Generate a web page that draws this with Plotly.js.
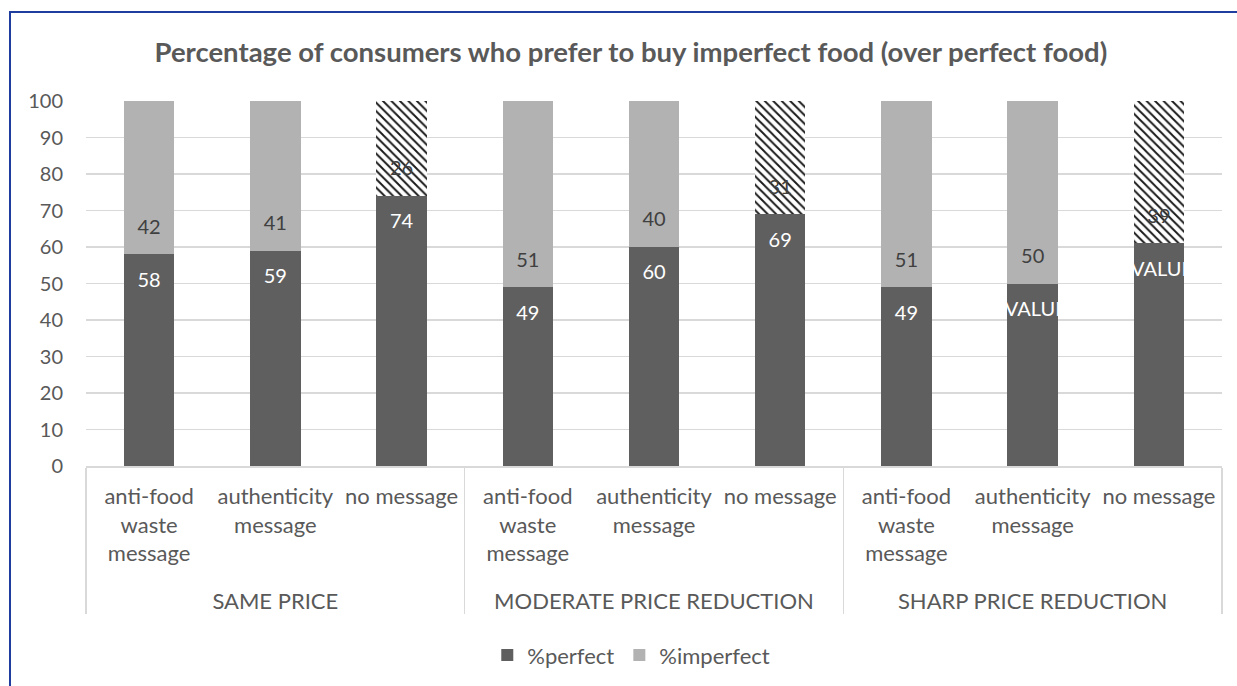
<!DOCTYPE html>
<html>
<head>
<meta charset="utf-8">
<script src="https://cdn.plot.ly/plotly-3.0.1.min.js"></script>
<style>
  html, body { margin: 0; padding: 0; background: #fff; }
  #wrap { position: relative; width: 1237px; height: 686px; overflow: hidden; }
  #chart { position: absolute; left: 0; top: 0; width: 1237px; height: 686px; }
  #frame { position: absolute; left: 9px; top: 11px; width: 1240px; height: 690px;
           border-left: 2px solid #1f3d9e; border-top: 2px solid #1f3d9e; pointer-events: none; }
</style>
</head>
<body>
<div id="wrap">
  <div id="chart"></div>
  <div id="frame"></div>
</div>
<script>
// ---- data ----
const groups = ['SAME PRICE', 'MODERATE PRICE REDUCTION', 'SHARP PRICE REDUCTION'];
const messages = ['anti-food<br>waste<br>message<br>&nbsp;', 'authenticity<br>message', 'no message'];
const perfect = [58, 59, 74, 49, 60, 69, 49, 50, 61];
const imperfect = [42, 41, 26, 51, 40, 31, 51, 50, 39];
const perfectLabels = ['58', '59', '74', '49', '60', '69', '49', '#VALUE!', '#VALUE!'];
const imperfectLabels = ['42', '41', '26', '51', '40', '31', '51', '50', '39'];
const yTicks = [0, 10, 20, 30, 40, 50, 60, 70, 80, 90, 100];

// ---- build ----
const xGroup = [], xSub = [];
groups.forEach(g => messages.forEach(m => { xGroup.push(g); xSub.push(m); }));
const xs = [xGroup, xSub];

const hatch = xSub.map(s => s === 'no message' ? '\\' : '');

const traces = [
  {
    type: 'bar', name: '%perfect', x: xs, y: perfect,
    marker: { color: '#5f5f5f', line: { width: 0 } },
    hoverinfo: 'skip'
  },
  {
    type: 'bar', name: '%imperfect', x: xs, y: imperfect,
    marker: {
      color: '#b2b2b2', line: { width: 0 },
      pattern: { shape: hatch, fgcolor: '#1a1a1a', bgcolor: '#ffffff', size: 6, solidity: 0.32, fillmode: 'replace' }
    },
    hoverinfo: 'skip'
  },
  {
    type: 'scatter', mode: 'text', x: xs,
    y: perfect.map(v => v - 7.5),
    text: perfectLabels, textposition: 'middle center',
    textfont: { family: 'Lato, sans-serif', size: 20, color: '#ffffff' },
    showlegend: false, hoverinfo: 'skip', cliponaxis: false
  },
  {
    type: 'scatter', mode: 'text', x: xs,
    y: perfect.map(v => v + 7),
    text: imperfectLabels, textposition: 'middle center',
    textfont: { family: 'Lato, sans-serif', size: 20, color: '#404040' },
    showlegend: false, hoverinfo: 'skip', cliponaxis: false
  }
];

const layout = {
  width: 1237, height: 686,
  margin: { l: 86, r: 15, t: 101, b: 219 },
  paper_bgcolor: '#ffffff', plot_bgcolor: '#ffffff',
  font: { family: 'Lato, sans-serif', color: '#595959' },
  title: {
    text: '<b>Percentage of consumers who prefer to buy imperfect food (over perfect food)</b>',
    font: { family: 'Lato, sans-serif', size: 27.5, color: '#595959' },
    xref: 'container', x: 0.51, xanchor: 'center',
    yref: 'container', y: 0.924, yanchor: 'middle'
  },
  barmode: 'stack', bargap: 0.6,
  showlegend: true,
  legend: {
    orientation: 'h', x: 0.48, xanchor: 'center', y: -0.514, yanchor: 'middle',
    font: { family: 'Lato, sans-serif', size: 22, color: '#595959' },
    traceorder: 'normal'
  },
  xaxis: {
    type: 'multicategory',
    tickfont: { family: 'Lato, sans-serif', size: 22, color: '#595959' },
    showdividers: true, dividercolor: '#d9d9d9', dividerwidth: 1.5,
    showline: true, linecolor: '#d9d9d9', linewidth: 1.5,
    showgrid: false, ticks: '', zeroline: false, ticklabelstandoff: 10
  },
  yaxis: {
    range: [0, 100], tickvals: yTicks, ticktext: yTicks.map(String),
    gridcolor: '#d9d9d9', gridwidth: 1.5,
    tickfont: { family: 'Lato, sans-serif', size: 20, color: '#595959' },
    showline: false, zeroline: false, ticks: '', ticklabelstandoff: 22
  }
};

Plotly.newPlot('chart', traces, layout, { displayModeBar: false, staticPlot: true });
</script>
</body>
</html>
